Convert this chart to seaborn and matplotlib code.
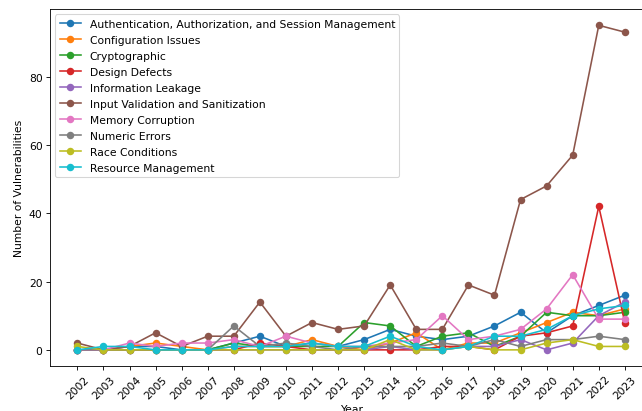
import matplotlib
matplotlib.use("Agg")
import matplotlib.pyplot as plt
import seaborn as sns
import pandas as pd

years = list(range(2002, 2024))

categories = [
    "Authentication, Authorization, and Session Management",
    "Configuration Issues",
    "Cryptographic",
    "Design Defects",
    "Information Leakage",
    "Input Validation and Sanitization",
    "Memory Corruption",
    "Numeric Errors",
    "Race Conditions",
    "Resource Management",
]

auth = [0, 0, 1, 1, 0, 0, 2, 4, 1, 2, 1, 3, 6, 4, 3, 4, 7, 11, 5, 10, 13, 16]
config = [0, 0, 1, 2, 1, 0, 1, 1, 1, 3, 1, 0, 2, 5, 0, 2, 2, 5, 8, 11, 10, 12]
crypto = [0, 0, 0, 0, 0, 0, 2, 1, 1, 1, 1, 8, 7, 1, 4, 5, 1, 4, 11, 10, 10, 11]
design = [0, 0, 0, 0, 0, 0, 0, 2, 1, 0, 0, 0, 0, 0, 1, 1, 0, 4, 5, 7, 42, 8]
info_leak = [0, 0, 0, 0, 0, 0, 0, 0, 0, 0, 0, 0, 1, 0, 0, 1, 1, 3, 0, 2, 10, 14]
input_val = [2, 0, 1, 5, 1, 4, 4, 14, 4, 8, 6, 7, 19, 6, 6, 19, 16, 44, 48, 57, 95, 93]
memory = [0, 0, 2, 1, 2, 2, 3, 1, 4, 2, 1, 1, 2, 3, 10, 3, 4, 6, 12, 22, 9, 9]
numeric = [0, 0, 0, 0, 0, 0, 7, 1, 2, 1, 0, 1, 1, 1, 2, 1, 3, 1, 3, 3, 4, 3]
race = [1, 0, 0, 0, 0, 0, 0, 0, 0, 0, 0, 0, 3, 0, 0, 1, 0, 0, 2, 3, 1, 1]
resource = [0, 1, 1, 0, 0, 0, 1, 1, 1, 2, 1, 1, 4, 1, 0, 1, 4, 4, 6, 10, 12, 13]

series = [auth, config, crypto, design, info_leak, input_val, memory,
          numeric, race, resource]

df = pd.DataFrame(
    [(y, cat, v) for cat, vals in zip(categories, series) for y, v in zip(years, vals)],
    columns=["Year", "Category", "Count"],
)

DPI = 77
fig = plt.figure(figsize=(642 / DPI, 412 / DPI), dpi=DPI)
ax = fig.add_axes([0.0779, 0.109, 0.938, 0.8665])

palette = sns.color_palette("tab10", len(categories))
for cat, color in zip(categories, palette):
    sub = df[df["Category"] == cat]
    sns.lineplot(data=sub, x="Year", y="Count", ax=ax, color=color, label=cat,
                 marker="o", markersize=7, markeredgewidth=0, linewidth=1.5)

ax.set_xticks(years)
ax.set_xticklabels([str(y) for y in years], rotation=45)
ax.set_xlabel("Year")
ax.set_ylabel("Number of Vulnerabilities")
ax.legend(loc="upper left", labelspacing=0.56)

fig.savefig("out.png", dpi=DPI)
